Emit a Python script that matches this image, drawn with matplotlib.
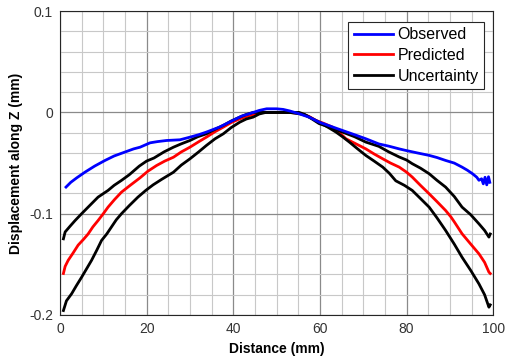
import matplotlib.pyplot as plt
from matplotlib.ticker import MultipleLocator, FuncFormatter

plt.rcParams['font.family'] = ['Liberation Sans', 'DejaVu Sans']

# Observed displacement (blue)
obs_x = [1.4, 2.5, 3.9, 5.8, 8.0, 10.4, 12.5, 15.0, 17.0, 18.5, 20.8, 22.5, 24.6,
         27.7, 30.0, 32.0, 33.8, 36.8, 39.9, 42.0, 43.7, 46.0, 47.7, 50.0, 51.5,
         53.0, 55.2, 57.7, 59.8, 62.5, 65.2, 68.0, 70.6, 73.6, 75.9, 78.3, 79.8,
         82.5, 85.2, 87.0, 89.0, 91.0, 92.8, 94.0, 95.2, 96.2, 96.7, 97.3, 97.7,
         98.1, 98.5, 98.9, 99.2]
obs_y = [-0.0737, -0.069, -0.0645, -0.0589, -0.053, -0.0474, -0.043, -0.0391, -0.036,
         -0.0343, -0.030, -0.0288, -0.0277, -0.027, -0.0244, -0.022, -0.0194, -0.0145,
         -0.0079, -0.0035, -0.0013, 0.002, 0.0036, 0.0036, 0.003, 0.0015, -0.0013,
         -0.005, -0.0096, -0.0137, -0.0178, -0.022, -0.026, -0.0311, -0.0333, -0.036,
         -0.0375, -0.040, -0.0424, -0.0445, -0.0474, -0.050, -0.054, -0.057, -0.0605,
         -0.064, -0.067, -0.0655, -0.0705, -0.064, -0.0715, -0.0635, -0.069]

# Predicted displacement (red)
pred_x = [0.8, 1.2, 1.9, 3.0, 4.2, 5.5, 6.5, 7.6, 8.8, 10.0, 11.1, 12.6, 14.2, 16.2,
          18.5, 20.3, 22.3, 24.2, 26.2, 28.0, 30.0, 32.0, 33.8, 35.8, 37.7, 39.6,
          41.5, 43.8, 45.5, 47.0, 50.0, 53.0, 55.5, 57.5, 59.1, 61.0, 62.9, 64.5,
          66.0, 68.3, 70.6, 72.5, 74.5, 76.3, 78.3, 80.0, 81.3, 83.2, 85.2, 87.0,
          89.0, 90.2, 91.0, 92.8, 94.8, 96.7, 98.0, 99.0, 99.3]
pred_y = [-0.159, -0.152, -0.146, -0.139, -0.131, -0.125, -0.120, -0.113, -0.1067,
          -0.100, -0.0935, -0.086, -0.0787, -0.072, -0.0645, -0.058, -0.0524, -0.048,
          -0.0442, -0.039, -0.0343, -0.029, -0.0244, -0.019, -0.0145, -0.0098, -0.0063,
          -0.003, -0.001, 0.0, 0.0, 0.0, -0.001, -0.004, -0.0079, -0.011, -0.0145,
          -0.020, -0.026, -0.031, -0.036, -0.041, -0.0458, -0.050, -0.054, -0.059,
          -0.0638, -0.072, -0.0803, -0.088, -0.0968, -0.103, -0.108, -0.1198, -0.130,
          -0.1396, -0.148, -0.1577, -0.159]

# Uncertainty bounds (black)
up_x = [0.8, 1.2, 2.3, 3.5, 5.0, 6.5, 8.8, 11.1, 12.5, 14.2, 16.0, 18.3, 20.0, 21.7,
        24.0, 26.2, 28.0, 30.0, 31.8, 33.8, 35.6, 37.7, 39.5, 41.5, 43.0, 44.6, 47.0,
        50.0, 53.0, 55.2, 56.5, 58.0, 59.8, 62.5, 65.2, 68.0, 70.6, 73.6, 75.9, 78.3,
        80.0, 81.3, 83.2, 85.2, 87.0, 89.0, 91.0, 92.8, 94.8, 96.7, 98.0, 99.0, 99.3]
up_y = [-0.1248, -0.118, -0.1125, -0.1067, -0.100, -0.0935, -0.0836, -0.077, -0.072,
        -0.0671, -0.0615, -0.053, -0.048, -0.045, -0.039, -0.0343, -0.031, -0.0277,
        -0.024, -0.0211, -0.017, -0.0128, -0.0085, -0.0046, -0.002, 0.0, 0.0, 0.0,
        0.0, 0.0, -0.002, -0.006, -0.011, -0.015, -0.0194, -0.024, -0.0293, -0.0335,
        -0.039, -0.044, -0.047, -0.0506, -0.055, -0.0605, -0.067, -0.0737, -0.083,
        -0.0935, -0.101, -0.110, -0.1165, -0.1231, -0.120]

lo_x = [0.8, 1.5, 2.7, 3.8, 5.0, 6.2, 7.3, 8.5, 9.6, 10.8, 11.9, 13.0, 14.2, 16.0,
        18.0, 19.8, 21.5, 23.5, 26.2, 28.0, 30.0, 32.0, 33.8, 35.8, 37.7, 39.5, 41.5,
        43.0, 44.6, 46.0, 47.5, 50.0, 53.0, 55.5, 56.8, 58.3, 60.2, 62.0, 63.7, 65.2,
        66.8, 68.7, 70.6, 72.5, 74.5, 76.0, 77.5, 79.5, 81.3, 83.2, 85.2, 87.0, 89.0,
        91.0, 92.8, 94.8, 96.7, 98.0, 99.0, 99.3]
lo_y = [-0.1956, -0.186, -0.179, -0.171, -0.1627, -0.154, -0.146, -0.136, -0.1264,
        -0.120, -0.113, -0.106, -0.100, -0.092, -0.0836, -0.077, -0.0715, -0.066,
        -0.059, -0.052, -0.0458, -0.039, -0.0326, -0.026, -0.0211, -0.015, -0.0096,
        -0.0065, -0.0046, -0.0015, 0.0, 0.0, 0.0, -0.0015, -0.003, -0.0063, -0.0105,
        -0.015, -0.0194, -0.024, -0.0293, -0.036, -0.0425, -0.048, -0.054, -0.060,
        -0.0675, -0.072, -0.077, -0.085, -0.0935, -0.104, -0.1165, -0.130, -0.143,
        -0.156, -0.1693, -0.180, -0.1923, -0.190]

fig = plt.figure(figsize=(5.08, 3.6), dpi=100)
ax = fig.add_axes([0.118, 0.125, 0.853, 0.844])

ax.plot(obs_x, obs_y, color='#0000ff', lw=2, label='Observed', zorder=4)
ax.plot(pred_x, pred_y, color='#ff0000', lw=2, label='Predicted', zorder=3)
ax.plot(up_x, up_y, color='black', lw=2, label='Uncertainty', zorder=3)
ax.plot(lo_x, lo_y, color='black', lw=2, zorder=3)

ax.set_xlim(0, 100)
ax.set_ylim(-0.2, 0.1)
ax.xaxis.set_major_locator(MultipleLocator(20))
ax.xaxis.set_minor_locator(MultipleLocator(5))
ax.yaxis.set_major_locator(MultipleLocator(0.1))
ax.yaxis.set_minor_locator(MultipleLocator(0.02))
ax.yaxis.set_major_formatter(FuncFormatter(lambda v, p: '0' if abs(v) < 1e-9 else f'{v:g}'))

ax.grid(which='major', color='#8a8a8a', lw=0.9)
ax.grid(which='minor', color='#c8c8c8', lw=0.8)
ax.set_axisbelow(True)
ax.tick_params(which='both', direction='in', length=0, labelsize=10,
               labelcolor='#333333', pad=5)
for s in ax.spines.values():
    s.set_color('#262626')
    s.set_linewidth(0.8)

ax.set_xlabel('Distance (mm)', fontsize=10, fontweight='bold', labelpad=4)
ax.set_ylabel('Displacement along Z (mm)', fontsize=10, fontweight='bold', labelpad=4)

leg = ax.legend(loc='upper right', fontsize=11.5, frameon=True, fancybox=False,
                edgecolor='#262626', framealpha=1, handlelength=2.5,
                handletextpad=0.25, labelspacing=0.35, borderpad=0.35,
                borderaxespad=0, bbox_to_anchor=(0.979, 0.965))
leg.get_frame().set_linewidth(0.8)

fig.savefig('out.png', dpi=100)
